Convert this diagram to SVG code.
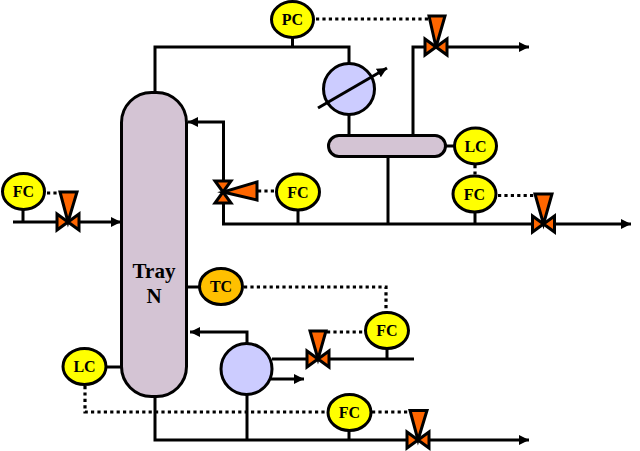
<svg xmlns="http://www.w3.org/2000/svg" width="640" height="451" viewBox="0 0 640 451">
<style>
.p{fill:none;stroke:#000;stroke-width:3}
.d{fill:none;stroke:#000;stroke-width:3.200;stroke-dasharray:3.200 3.200}
.i{fill:#ffff00;stroke:#000;stroke-width:3}
.o{fill:#ffc000;stroke:#000;stroke-width:3}
.v{fill:#ff6600;stroke:#000;stroke-width:3;stroke-linejoin:miter}
.e{fill:#ccccff;stroke:#000;stroke-width:3}
.k{fill:#d4c4d4;stroke:#000;stroke-width:3}
text{font-family:"Liberation Serif",serif;font-weight:bold;text-anchor:middle;fill:#000}
.t{font-size:16px}
.b{font-size:21px}
</style>
<defs>
<marker id="a" markerUnits="userSpaceOnUse" markerWidth="12" markerHeight="12" refX="10" refY="6" orient="auto"><path d="M0 1L10 6L0 11Z" fill="#000"/></marker>
<g id="hv"><path class="v" d="M-11 -8L11 8V-8L-11 8Z"/></g>
<g id="vv"><path class="v" d="M-8 -11L8 -11L-8 11L8 11Z"/></g>
</defs>
<g id="connectors">
<path class="p" marker-end="url(#a)" d="M13 222H121"/>
<path class="p" d="M23 210V222"/>
<path class="d" d="M47 193H60"/>
<path class="p" d="M155 92V47H349V63"/>
<path class="p" d="M292.500 38V47"/>
<path class="p" d="M349 115V135"/>
<path class="p" marker-end="url(#a)" d="M413 135V47H529"/>
<path class="d" d="M316 19H429"/>
<path class="p" d="M446 146H454"/>
<path class="d" d="M475 165V176"/>
<path class="p" marker-end="url(#a)" d="M223.500 192V224H631"/>
<path class="p" marker-end="url(#a)" d="M223.500 192V122H188"/>
<path class="p" d="M388 157V224"/>
<path class="p" d="M298 210V224"/>
<path class="p" d="M475 212V224"/>
<path class="d" d="M258 191H276"/>
<path class="d" d="M498 195.500H535"/>
<path class="p" d="M187 287H199"/>
<path class="d" d="M244 287H386V312"/>
<path class="p" d="M387 349V359"/>
<path class="p" d="M272 359H414"/>
<path class="d" d="M327 332H365"/>
<path class="p" marker-end="url(#a)" d="M247 343V332H190"/>
<path class="p" marker-end="url(#a)" d="M271 379H304"/>
<path class="p" d="M247 395V440"/>
<path class="p" d="M107 367H121"/>
<path class="d" d="M85 386V412H327"/>
<path class="d" d="M372 412H411"/>
<path class="p" d="M349 431V440"/>
<path class="p" marker-end="url(#a)" d="M155 397V440H529"/>
</g>
<g id="column"><rect class="k" x="121.500" y="92.500" width="65" height="304" rx="30" ry="30"/><text class="b" x="154" y="278">Tray</text><text class="b" x="154" y="303">N</text></g>
<g id="condenser"><circle class="e" cx="349" cy="89" r="25.500"/><path class="p" marker-end="url(#a)" d="M318 108L387 68"/></g>
<g id="drum"><rect class="k" x="328.500" y="135.500" width="117" height="21" rx="10.500" ry="10.500"/></g>
<g id="reboiler"><circle class="e" cx="246.500" cy="369" r="25.500"/></g>
<g id="fc1"><ellipse class="i" cx="23.500" cy="191.500" rx="21" ry="18"/><text class="t" x="23.500" y="197">FC</text></g>
<g id="pc"><ellipse class="i" cx="292.500" cy="19.500" rx="21" ry="18"/><text class="t" x="292.500" y="25">PC</text></g>
<g id="lc1"><ellipse class="i" cx="475.500" cy="146" rx="21" ry="18"/><text class="t" x="475.500" y="151.500">LC</text></g>
<g id="fc2"><ellipse class="i" cx="474.500" cy="194" rx="21.500" ry="18"/><text class="t" x="474.500" y="199.500">FC</text></g>
<g id="fc3"><ellipse class="i" cx="298" cy="192" rx="21.500" ry="18"/><text class="t" x="298" y="197.500">FC</text></g>
<g id="tc"><ellipse class="o" cx="221" cy="286.500" rx="21.500" ry="18"/><text class="t" x="221" y="292">TC</text></g>
<g id="fc4"><ellipse class="i" cx="387" cy="330.500" rx="21.500" ry="18"/><text class="t" x="387" y="336">FC</text></g>
<g id="lc2"><ellipse class="i" cx="84.500" cy="366.500" rx="21.500" ry="18"/><text class="t" x="84.500" y="372">LC</text></g>
<g id="fc5"><ellipse class="i" cx="349.500" cy="412.500" rx="21.500" ry="18"/><text class="t" x="349.500" y="418">FC</text></g>
<g id="valve1"><use href="#hv" x="68" y="222"/><path class="v" d="M60 192H77L68 222Z"/></g>
<g id="valve2"><use href="#hv" x="436" y="47"/><path class="v" d="M429 16H445L436 47Z"/></g>
<g id="valve3"><use href="#vv" x="223" y="192"/><path class="v" d="M257 182V200L223 192Z"/></g>
<g id="valve4"><use href="#hv" x="543.500" y="224"/><path class="v" d="M535 194H552L543.500 224Z"/></g>
<g id="valve5"><use href="#hv" x="318" y="359"/><path class="v" d="M310 331H326L318 359Z"/></g>
<g id="valve6"><use href="#hv" x="418" y="440"/><path class="v" d="M410 410.500H427L418 440Z"/></g>
</svg>
